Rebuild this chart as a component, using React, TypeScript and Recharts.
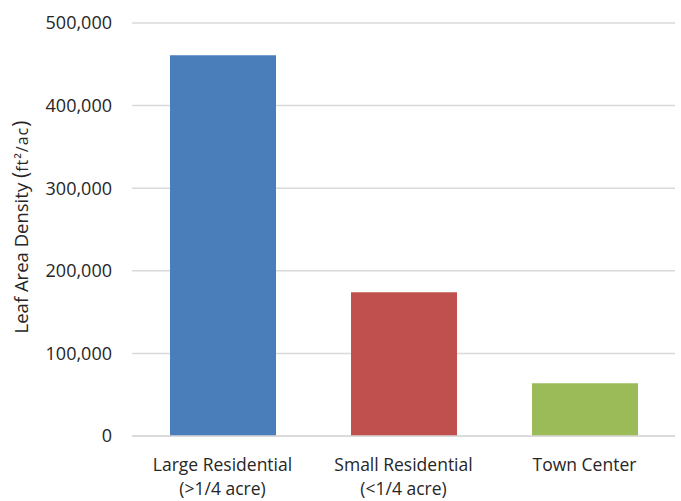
import { BarChart, Bar, XAxis, YAxis, CartesianGrid, Cell } from "recharts"

const categories = ["Large Residential", "Small Residential", "Town Center"]
const subLabels = ["(>1/4 acre)", "(<1/4 acre)", ""]
const density = [461000, 174000, 64000]
const barColors = ["#4a7ebb", "#c0504d", "#9bbb59"]
const yTicks = [0, 100000, 200000, 300000, 400000, 500000]

const FONT = "'Open Sans', 'Noto Sans', sans-serif"
const TEXT = "#262626"

const data = categories.map((name, i) => ({ name, sub: subLabels[i], value: density[i] }))

// eslint-disable-next-line @typescript-eslint/no-explicit-any
function CategoryTick({ x, y, payload, index }: any) {
  const sub = subLabels[index ?? 0]
  return (
    <g transform={`translate(${x},${y})`}>
      <text x={0} y={0} textAnchor="middle" fill={TEXT} fontSize={17.5} fontFamily={FONT}>
        <tspan x={0} dy={27}>{payload.value}</tspan>
        {sub && <tspan x={0} dy={24}>{sub}</tspan>}
      </text>
    </g>
  )
}

function YLabel() {
  return (
    <text
      transform="translate(28,227) rotate(-90)"
      textAnchor="middle"
      fill={TEXT}
      fontFamily={FONT}
      fontSize={18.5}
    >
      Leaf Area Density <tspan fontSize={21}>(</tspan>
      <tspan fontSize={16} letterSpacing={1}>ft²/ac</tspan>
      <tspan fontSize={21}>)</tspan>
    </text>
  )
}

export default function App() {
  return (
    <div style={{ position: "absolute", left: 0, top: 0, width: 681, height: 501, background: "#fff" }}>
      <BarChart width={681} height={501} data={data} margin={{ top: 23, right: 6, bottom: 0, left: 0 }}>
        <CartesianGrid vertical={false} stroke="#d9d9d9" strokeWidth={1.5} />
        <XAxis
          dataKey="name"
          height={65}
          axisLine={{ stroke: "#d9d9d9", strokeWidth: 1.5 }}
          tickLine={false}
          interval={0}
          tick={<CategoryTick />}
        />
        <YAxis
          width={132}
          domain={[0, 500000]}
          ticks={yTicks}
          axisLine={false}
          tickLine={false}
          tickMargin={14}
          tickFormatter={(v: number) => v.toLocaleString("en-US")}
          tick={{ fill: TEXT, fontSize: 18, fontFamily: FONT }}
          label={<YLabel />}
        />
        <Bar dataKey="value" barSize={106} isAnimationActive={false}>
          {data.map((d, i) => (
            <Cell key={d.name} fill={barColors[i]} />
          ))}
        </Bar>
      </BarChart>
    </div>
  )
}
